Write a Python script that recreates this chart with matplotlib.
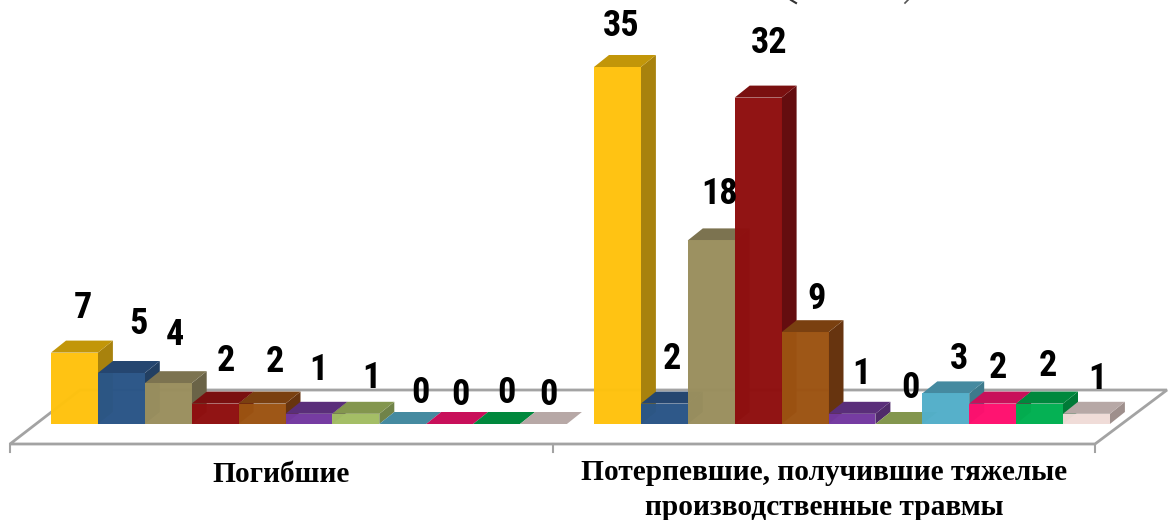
import matplotlib
matplotlib.use('Agg')
import matplotlib.pyplot as plt
from matplotlib.patches import Polygon

categories = ['Погибшие', 'Потерпевшие, получившие тяжелые\nпроизводственные травмы']
values_dead = [7, 5, 4, 2, 2, 1, 1, 0, 0, 0, 0]
values_hurt = [35, 2, 18, 32, 9, 1, 0, 3, 2, 2, 1]

front_cols = ['#FFC20E', '#2A5587', '#9A8F5E', '#8F0F0F', '#9C5312', '#7338A0', '#A2BD63', '#52AFC9', '#FF0F6E', '#00B050', '#F0DCD8']
top_cols = ['#C29609', '#254670', '#7C7350', '#7A1010', '#7A4010', '#5A2E7A', '#83964E', '#458AA0', '#C8105A', '#00883D', '#B7A8A6']
side_cols = ['#A8820D', '#223F62', '#6A6347', '#640D0F', '#67340F', '#4F2A6A', '#708349', '#3D7A8C', '#A30D4B', '#007A37', '#9E8F8C']

# label offsets from the bar top centre, in pixels (labels were dragged by hand in the original)
lab_dead = [(8, 45), (17, 49), (7, 48), (11, 43), (13, 42), (9, 44), (16, 36), (18, 31), (11, 29), (10, 31), (5, 29)]
lab_hurt = [(4, 41), (8, 45), (8, 46), (11, 55), (12, 33), (9, 40), (12, 36), (13, 34), (5, 36), (8, 38), (11, 35)]

W, H = 1168, 520
slot = 46.9      # px per bar
unit = 10.2      # px per person
x0 = 51
y0 = 424
depth_x = 15 / slot
depth_y = 12 / unit
group2_start = (594 - x0) / slot


def dx(px):
	return (px - x0) / slot


def dy(py):
	return (y0 - py) / unit


fig = plt.figure(figsize=(W / 100, H / 100), dpi=100)
ax = fig.add_axes([0, 0, 1, 1])
ax.set_xlim(dx(0), dx(W))
ax.set_ylim(dy(H), dy(0))
ax.axis('off')

# floor
grey = '#A3A3A3'
floor = [(dx(10), dy(444)), (dx(1095), dy(444)), (dx(1167), dy(390)), (dx(80), dy(390))]
ax.add_patch(Polygon(floor, closed=True, fc='white', ec=grey, lw=2, zorder=1))
for tx in [10, 553, 1095]:
	ax.plot([dx(tx), dx(tx)], [dy(444), dy(452)], color=grey, lw=1.5, zorder=1)


def draw_group(vals, start, labs):
	for i, v in enumerate(vals):
		x = start + i
		z = 2 + i * 0.01
		top = [(x, v), (x + 1, v), (x + 1 + depth_x, v + depth_y), (x + depth_x, v + depth_y)]
		side = [(x + 1, 0), (x + 1 + depth_x, depth_y), (x + 1 + depth_x, v + depth_y), (x + 1, v)]
		ax.add_patch(Polygon(side, closed=True, fc=side_cols[i], ec='none', zorder=z))
		ax.add_patch(Polygon(top, closed=True, fc=top_cols[i], ec='none', zorder=z))
		if v > 0:
			ax.bar(x, v, width=1, align='edge', color=front_cols[i], alpha=0.98, lw=0, zorder=z + 0.001)
		ax.text(x + 0.5 + labs[i][0] / slot, v + labs[i][1] / unit, str(v), ha='center', va='center',
			family='Roboto Condensed', fontweight='bold', fontsize=26, color='black', zorder=5)


draw_group(values_dead, 0, lab_dead)
draw_group(values_hurt, group2_start, lab_hurt)

ax.text(dx(281), dy(474), categories[0], ha='center', va='center', family='Liberation Serif', fontweight='bold', fontsize=21.2)
ax.text(dx(824), dy(490), categories[1], ha='center', va='center', family='Liberation Serif', fontweight='bold', fontsize=21.2, linespacing=1.34)

# the title is cut off by the picture edge, only the tails of its brackets show
ax.plot([dx(791), dx(796)], [dy(0), dy(3)], color='#333333', lw=1.5)
ax.plot([dx(908), dx(905)], [dy(0), dy(3)], color='#555555', lw=1.2)

fig.savefig('out.png', dpi=100)
